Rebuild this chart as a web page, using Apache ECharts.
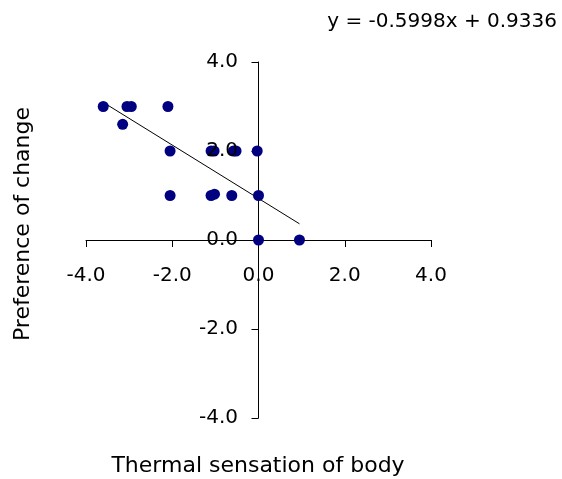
<!DOCTYPE html>
<html>
<head>
<meta charset="utf-8">
<script src="https://cdn.jsdelivr.net/npm/echarts@6/dist/echarts.min.js"></script>
<style>
  html, body { margin: 0; padding: 0; background: #fff; }
  #chart { width: 562px; height: 479px; }
</style>
</head>
<body>
<div id="chart"></div>
<script>
// thermal sensation (x) vs preference of change (y)
const sensation = [-3.6, -3.05, -2.95, -2.1, -3.15, -2.05, -1.1, -1.03, -0.58, -0.52, -0.03, -2.05, -1.1, -1.02, -0.62, 0, 0, 0.95]
const preference = [3, 3, 3, 3, 2.6, 2, 2, 2, 2, 2, 2, 1, 1, 1.03, 1, 1, 0, 0]

// Excel linear trendline
const slope = -0.5998
const intercept = 0.9336
const trendRange = [-3.6, 0.95]

const tickLabels = ["-4.0", "-2.0", "0.0", "2.0", "4.0"]

const font = "DejaVu Sans"

const chart = echarts.init(document.getElementById("chart"))

const points = sensation.map((x, i) => [x, preference[i]])
const trend = trendRange.map((x) => [x, slope * x + intercept])

function fmt(v) {
  return tickLabels[Math.round((v + 4) / 2)]
}

const range = { type: "value", min: -4, max: 4, interval: 2, splitLine: { show: false } }
const hidden = { ...range, show: false }
const labelStyle = { color: "#000", fontSize: 20, fontFamily: font, formatter: fmt }

// labels sit next to the crossing axes, so they get their own grids:
// grid 1 ends at y = 0, grid 2 starts at x = 0
const option = {
  animation: false,
  grid: [
    { left: 86, width: 345, top: 62, height: 356 },
    { left: 86, width: 345, top: 62, height: 178 },
    { left: 259, width: 172, top: 62, height: 356 },
  ],
  xAxis: [
    {
      ...range,
      gridIndex: 0,
      axisLine: { onZero: true, lineStyle: { color: "#000", width: 1 } },
      axisTick: { show: true, length: 7, lineStyle: { color: "#000" } },
      axisLabel: { show: false },
    },
    {
      ...range,
      gridIndex: 1,
      z: 5,
      axisLine: { show: false },
      axisTick: { show: false },
      axisLabel: { ...labelStyle, margin: 26 },
    },
    { ...hidden, gridIndex: 2 },
  ],
  yAxis: [
    {
      ...range,
      gridIndex: 0,
      axisLine: { show: true, onZero: true, lineStyle: { color: "#000", width: 1 } },
      axisTick: { show: true, length: 7, lineStyle: { color: "#000" } },
      axisLabel: { show: false },
    },
    { ...hidden, gridIndex: 1 },
    {
      ...range,
      gridIndex: 2,
      z: 5,
      axisLine: { show: false },
      axisTick: { show: false },
      axisLabel: { ...labelStyle, margin: 21 },
    },
  ],
  graphic: [
    {
      type: "text",
      x: 557,
      y: 22,
      style: { text: "y = -0.5998x + 0.9336", fontSize: 20, fontFamily: font, fill: "#000", align: "right", verticalAlign: "middle" },
    },
    {
      type: "text",
      x: 258,
      y: 466,
      style: { text: "Thermal sensation of body", fontSize: 22, fontFamily: font, fill: "#000", align: "center", verticalAlign: "middle" },
    },
    {
      type: "text",
      x: 23,
      y: 224,
      rotation: Math.PI / 2,
      style: { text: "Preference of change", fontSize: 22, fontFamily: font, fill: "#000", align: "center", verticalAlign: "middle" },
    },
  ],
  series: [
    {
      type: "scatter",
      data: points,
      symbolSize: 11,
      itemStyle: { color: "#000080", opacity: 1 },
      z: 3,
    },
    {
      type: "line",
      data: trend,
      showSymbol: false,
      symbol: "none",
      lineStyle: { color: "#000", width: 1 },
      z: 2,
    },
  ],
}

chart.setOption(option)
</script>
</body>
</html>
